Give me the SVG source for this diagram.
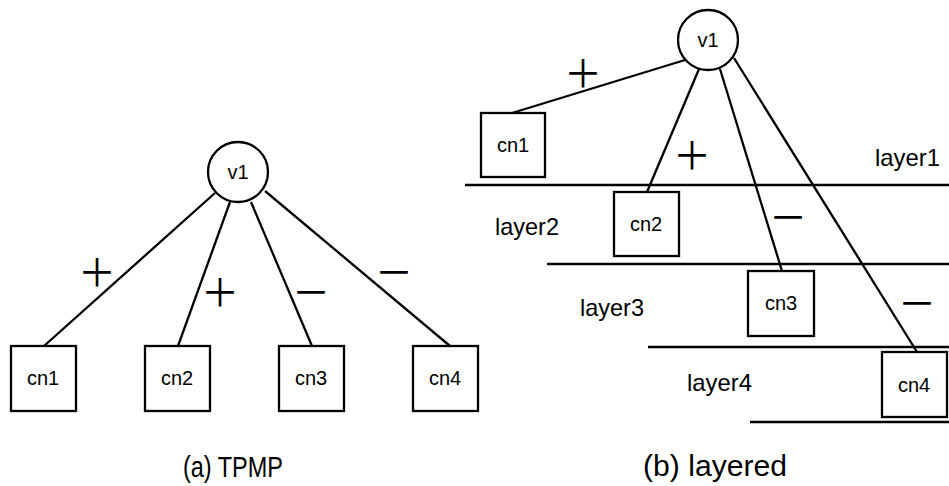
<svg xmlns="http://www.w3.org/2000/svg" width="949" height="486" viewBox="0 0 949 486">
<style>
.edge{stroke:#000;stroke-width:2.3;fill:none}
.layer{stroke:#000;stroke-width:2.3;fill:none}
.node{stroke:#000;stroke-width:2.3;fill:#fff}
.lbl{font-family:"Liberation Sans",Arial,sans-serif;font-size:20px;fill:#000;text-anchor:middle}
.sign{font-family:"Noto Sans CJK JP","Liberation Sans",sans-serif;font-size:38px;fill:#000;text-anchor:middle}
.lay{font-family:"Liberation Sans",Arial,sans-serif;font-size:24px;fill:#000}
.cap{font-family:"Liberation Sans",Arial,sans-serif;font-size:29px;fill:#000}
</style>
<rect width="949" height="486" fill="#fff"/>
<g id="layers">
<line class="layer" x1="465" y1="185" x2="949" y2="185"/>
<line class="layer" x1="547" y1="264" x2="949" y2="264"/>
<line class="layer" x1="648" y1="347" x2="949" y2="347"/>
<line class="layer" x1="750" y1="422" x2="949" y2="422"/>
</g>
<g id="connectors">
<line class="edge" x1="215" y1="193" x2="44" y2="346"/>
<line class="edge" x1="230" y1="202" x2="178" y2="346"/>
<line class="edge" x1="251" y1="202" x2="312" y2="346"/>
<line class="edge" x1="265" y1="191" x2="450" y2="346"/>
<line class="edge" x1="685" y1="60" x2="512" y2="113"/>
<line class="edge" x1="699" y1="69" x2="647" y2="192"/>
<line class="edge" x1="720" y1="69" x2="782" y2="271"/>
<line class="edge" x1="734" y1="58" x2="917" y2="352"/>
</g>
<g id="edge-labels">
<text class="sign" x="97" y="286">＋</text>
<text class="sign" x="220" y="306">＋</text>
<text class="sign" x="311" y="306">－</text>
<text class="sign" x="394" y="286">－</text>
<text class="sign" x="583" y="87">＋</text>
<text class="sign" x="692" y="169">＋</text>
<text class="sign" x="788" y="231">－</text>
<text class="sign" x="917" y="317">－</text>
</g>
<g id="a-v1"><circle class="node" cx="238" cy="172" r="30"/><text class="lbl" x="238" y="179">v1</text></g>
<g id="a-cn1"><rect class="node" x="11" y="346" width="65" height="65"/><text class="lbl" x="43" y="385">cn1</text></g>
<g id="a-cn2"><rect class="node" x="145" y="346" width="65" height="65"/><text class="lbl" x="177" y="385">cn2</text></g>
<g id="a-cn3"><rect class="node" x="279" y="346" width="65" height="65"/><text class="lbl" x="311" y="385">cn3</text></g>
<g id="a-cn4"><rect class="node" x="413" y="346" width="65" height="65"/><text class="lbl" x="445" y="385">cn4</text></g>
<g id="b-v1"><circle class="node" cx="708" cy="40" r="30"/><text class="lbl" x="708" y="47">v1</text></g>
<g id="b-cn1"><rect class="node" x="481" y="113" width="64" height="64"/><text class="lbl" x="513" y="152">cn1</text></g>
<g id="b-cn2"><rect class="node" x="614" y="192" width="65" height="64"/><text class="lbl" x="646" y="231">cn2</text></g>
<g id="b-cn3"><rect class="node" x="748" y="271" width="66" height="65"/><text class="lbl" x="781" y="310">cn3</text></g>
<g id="b-cn4"><rect class="node" x="882" y="352" width="65" height="65"/><text class="lbl" x="914" y="392">cn4</text></g>
<g id="layer-labels">
<text class="lay" x="875" y="166" textLength="65" lengthAdjust="spacingAndGlyphs">layer1</text>
<text class="lay" x="495" y="235" textLength="64" lengthAdjust="spacingAndGlyphs">layer2</text>
<text class="lay" x="580" y="316" textLength="64" lengthAdjust="spacingAndGlyphs">layer3</text>
<text class="lay" x="687" y="391" textLength="65" lengthAdjust="spacingAndGlyphs">layer4</text>
</g>
<g id="captions">
<text class="cap" x="183" y="477" textLength="100" lengthAdjust="spacingAndGlyphs">(a) TPMP</text>
<text class="cap" x="643" y="476" textLength="144" lengthAdjust="spacingAndGlyphs">(b) layered</text>
</g>
</svg>
